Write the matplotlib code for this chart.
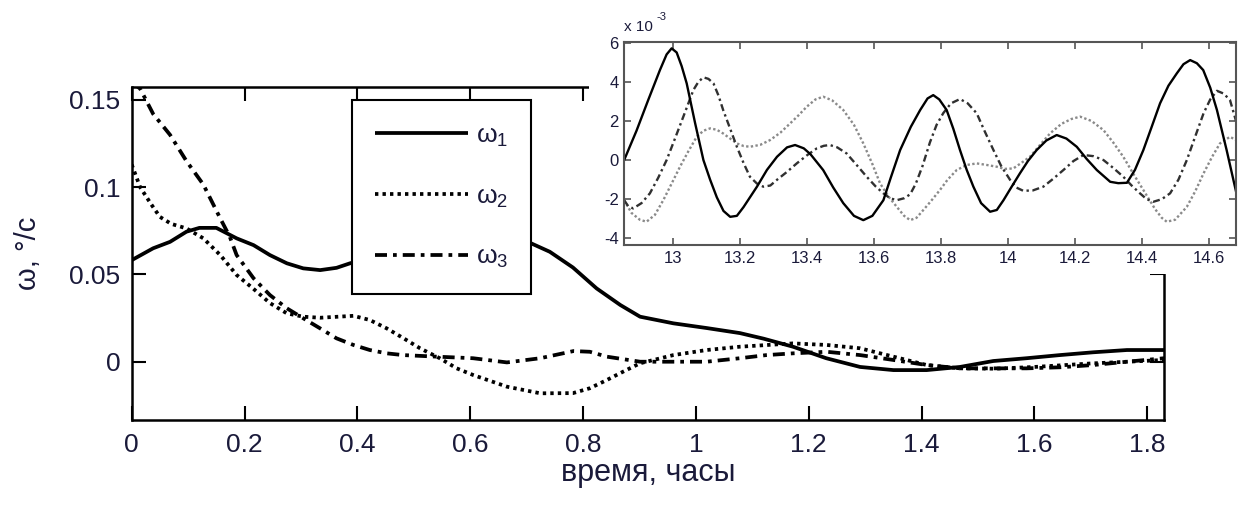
import matplotlib
matplotlib.use("Agg")
import matplotlib.pyplot as plt
from matplotlib.patches import Rectangle

plt.rcParams["font.family"] = ["Liberation Sans", "DejaVu Sans"]

# ---- main plot data (time in hours, omega in deg/s) ----
t1 = [0.0, 0.038, 0.068, 0.097, 0.12, 0.15, 0.186, 0.216, 0.245, 0.275, 0.304,
      0.334, 0.363, 0.387, 0.45, 0.52, 0.60, 0.66, 0.70, 0.741, 0.782, 0.824,
      0.866, 0.901, 0.96, 1.019, 1.078, 1.12, 1.172, 1.231, 1.291, 1.35, 1.409,
      1.468, 1.527, 1.586, 1.645, 1.704, 1.764, 1.83]
w1 = [0.0582, 0.065, 0.0687, 0.0745, 0.0767, 0.0767, 0.0707, 0.0668, 0.0611, 0.0564, 0.0535,
      0.0525, 0.0538, 0.0564, 0.062, 0.068, 0.072, 0.0715, 0.069, 0.063, 0.054, 0.042,
      0.0325, 0.0258, 0.022, 0.0193, 0.0164, 0.0132, 0.0086, 0.002, -0.003, -0.0048, -0.0048,
      -0.003, 0.0004, 0.002, 0.0038, 0.0054, 0.0067, 0.0067]

t2 = [0.0, 0.015, 0.035, 0.05, 0.07, 0.097, 0.127, 0.157, 0.186, 0.215, 0.245,
      0.275, 0.304, 0.334, 0.393, 0.422, 0.452, 0.482, 0.511, 0.546, 0.576, 0.605,
      0.665, 0.724, 0.782, 0.812, 0.842, 0.871, 0.901, 0.96, 1.019, 1.078, 1.172,
      1.232, 1.291, 1.35, 1.409, 1.468, 1.53, 1.6, 1.7, 1.83]
w2 = [0.113, 0.100, 0.090, 0.083, 0.079, 0.0764, 0.0707, 0.0611, 0.0497, 0.042, 0.0336,
      0.0277, 0.0258, 0.0252, 0.0263, 0.0239, 0.0191, 0.0134, 0.0077, 0.002, -0.0038, -0.0076,
      -0.0143, -0.0181, -0.018, -0.0152, -0.0105, -0.0057, -0.0009, 0.0038, 0.0067, 0.0086, 0.0105,
      0.0096, 0.0077, 0.0029, -0.0019, -0.0038, -0.004, -0.003, -0.001, 0.001]

t3 = [0.0, 0.0147, 0.038, 0.068, 0.097, 0.127, 0.157, 0.174, 0.186, 0.216, 0.245,
      0.275, 0.304, 0.334, 0.363, 0.393, 0.422, 0.452, 0.481, 0.541, 0.605, 0.665,
      0.724, 0.783, 0.812, 0.842, 0.901, 0.96, 1.019, 1.078, 1.125, 1.172, 1.232,
      1.291, 1.35, 1.409, 1.468, 1.527, 1.586, 1.645, 1.704, 1.764, 1.83]
w3 = [0.160, 0.1566, 0.142, 0.130, 0.115, 0.1015, 0.0821, 0.0715, 0.0611, 0.0478, 0.0382,
      0.0306, 0.0249, 0.0191, 0.0134, 0.0096, 0.0067, 0.0048, 0.0038, 0.0029, 0.002, -0.0004,
      0.002, 0.0061, 0.0057, 0.0029, 0.0, 0.0, 0.0, 0.002, 0.0038, 0.0048, 0.0057,
      0.0038, 0.001, -0.0019, -0.0038, -0.0038, -0.0038, -0.0032, -0.0019, 0.0, 0.002]

labels = ["ω$_\\mathregular{1}$", "ω$_\\mathregular{2}$", "ω$_\\mathregular{3}$"]
main_xticks = [0, 0.2, 0.4, 0.6, 0.8, 1, 1.2, 1.4, 1.6, 1.8]
main_xticklabels = ["0", "0.2", "0.4", "0.6", "0.8", "1", "1.2", "1.4", "1.6", "1.8"]
main_yticks = [0, 0.05, 0.1, 0.15]
main_yticklabels = ["0", "0.05", "0.1", "0.15"]

# ---- inset data (time in hours, omega in 1e-3 deg/s) ----
ti1 = [12.853, 12.89, 12.925, 12.96, 12.98, 12.995, 13.01, 13.025, 13.04, 13.065, 13.09,
       13.11, 13.13, 13.15, 13.17, 13.19, 13.21, 13.25, 13.28, 13.31, 13.34, 13.364,
       13.39, 13.41, 13.448, 13.478, 13.508, 13.54, 13.568, 13.595, 13.628, 13.65, 13.678,
       13.71, 13.738, 13.76, 13.777, 13.795, 13.817, 13.837, 13.857, 13.877, 13.897, 13.92,
       13.947, 13.967, 13.987, 14.01, 14.036, 14.06, 14.086, 14.115, 14.146, 14.175, 14.206,
       14.236, 14.266, 14.306, 14.33, 14.356, 14.38, 14.405, 14.43, 14.455, 14.48, 14.505,
       14.525, 14.545, 14.565, 14.584, 14.605, 14.625, 14.654, 14.682]
wi1 = [0.0, 1.5, 3.07, 4.6, 5.4, 5.71, 5.5, 4.8, 3.92, 1.9, 0.0,
       -1.0, -1.9, -2.6, -2.9, -2.85, -2.4, -1.36, -0.5, 0.17, 0.65, 0.77,
       0.6, 0.3, -0.51, -1.4, -2.2, -2.85, -3.07, -2.85, -2.05, -0.9, 0.51,
       1.7, 2.56, 3.15, 3.32, 3.1, 2.56, 1.6, 0.51, -0.5, -1.36, -2.2,
       -2.64, -2.55, -2.05, -1.4, -0.68, -0.05, 0.51, 1.0, 1.28, 1.1, 0.68,
       0.05, -0.51, -1.11, -1.18, -1.16, -0.5, 0.51, 1.7, 2.9, 3.8, 4.43,
       4.9, 5.11, 4.95, 4.6, 3.7, 2.56, 0.51, -1.6]

ti2 = [12.853, 12.875, 12.9, 12.92, 12.945, 12.97, 12.995, 13.02, 13.045, 13.07, 13.09,
       13.11, 13.13, 13.149, 13.17, 13.19, 13.21, 13.229, 13.26, 13.289, 13.32, 13.349,
       13.375, 13.399, 13.425, 13.448, 13.475, 13.508, 13.54, 13.568, 13.595, 13.618, 13.645,
       13.668, 13.69, 13.708, 13.727, 13.747, 13.77, 13.797, 13.82, 13.847, 13.877, 13.907,
       13.937, 13.967, 13.99, 14.016, 14.04, 14.066, 14.095, 14.126, 14.16, 14.19, 14.216,
       14.25, 14.286, 14.315, 14.345, 14.375, 14.405, 14.44, 14.46, 14.475, 14.5, 14.535,
       14.56, 14.585, 14.61, 14.634, 14.664, 14.682]
wi2 = [-2.05, -2.7, -3.05, -3.15, -2.8, -2.05, -1.2, -0.34, 0.45, 1.19, 1.5,
       1.62, 1.55, 1.36, 1.1, 0.85, 0.72, 0.68, 0.78, 1.02, 1.4, 1.87,
       2.3, 2.73, 3.1, 3.24, 3.05, 2.56, 1.8, 0.85, -0.2, -1.19, -1.9,
       -2.39, -2.85, -3.07, -2.95, -2.56, -2.1, -1.53, -1.0, -0.51, -0.25, -0.17,
       -0.25, -0.34, -0.45, -0.43, -0.15, 0.17, 0.75, 1.36, 1.85, 2.1, 2.22,
       2.0, 1.53, 0.9, 0.17, -0.7, -1.53, -2.5, -2.95, -3.15, -3.05, -2.39,
       -1.6, -0.68, 0.15, 0.85, 1.19, 1.02]

ti3 = [12.853, 12.865, 12.88, 12.905, 12.93, 12.955, 12.98, 13.005, 13.03, 13.06, 13.075,
       13.09, 13.105, 13.12, 13.135, 13.149, 13.17, 13.19, 13.21, 13.229, 13.25, 13.269,
       13.29, 13.309, 13.34, 13.369, 13.4, 13.429, 13.45, 13.468, 13.49, 13.518, 13.548,
       13.578, 13.605, 13.628, 13.648, 13.668, 13.69, 13.708, 13.725, 13.745, 13.767, 13.787,
       13.807, 13.83, 13.857, 13.88, 13.907, 13.93, 13.957, 13.98, 14.007, 14.025, 14.046,
       14.075, 14.106, 14.136, 14.166, 14.196, 14.226, 14.256, 14.286, 14.315, 14.345, 14.37,
       14.395, 14.415, 14.435, 14.46, 14.485, 14.51, 14.535, 14.56, 14.585, 14.605, 14.625,
       14.645, 14.664, 14.682]
wi3 = [-2.05, -2.35, -2.47, -2.2, -1.7, -0.9, 0.0, 1.1, 2.22, 3.58, 4.0,
       4.23, 4.15, 3.92, 3.3, 2.56, 1.6, 0.68, -0.15, -0.85, -1.2, -1.36,
       -1.3, -1.02, -0.6, -0.17, 0.25, 0.6, 0.73, 0.77, 0.65, 0.34, -0.25,
       -0.85, -1.35, -1.7, -1.95, -2.05, -1.95, -1.75, -1.2, -0.3, 0.9, 1.8,
       2.4, 2.9, 3.12, 2.9, 2.39, 1.5, 0.51, -0.3, -1.02, -1.4, -1.57,
       -1.55, -1.36, -0.95, -0.51, -0.05, 0.26, 0.2, 0.0, -0.4, -0.85, -1.3,
       -1.7, -2.0, -2.13, -2.0, -1.7, -1.0, 0.0, 1.2, 2.39, 3.1, 3.54,
       3.4, 3.07, 2.0]

inset_xticks = [13, 13.2, 13.4, 13.6, 13.8, 14, 14.2, 14.4, 14.6]
inset_xticklabels = ["13", "13.2", "13.4", "13.6", "13.8", "14", "14.2", "14.4", "14.6"]
inset_yticks = [-4, -2, 0, 2, 4, 6]
inset_yticklabels = ["-4", "-2", "0", "2", "4", "6"]

W, H = 1238, 505
fig = plt.figure(figsize=(W / 100, H / 100), dpi=100)

def frac(x0, y0, x1, y1):
    # pixel box (top-left origin) -> figure fraction rect
    return [x0 / W, 1 - y1 / H, (x1 - x0) / W, (y1 - y0) / H]

txt_color = "#1a1a3a"

# main axes
ax = fig.add_axes(frac(131.7, 86.7, 1164, 420))
dot = (0, (0.9, 1.1))
dashdot = (0, (3.2, 1.6, 1.0, 1.6))
ax.plot(t1, w1, color="black", lw=2.7, solid_capstyle="butt", label=labels[0])
ax.plot(t2, w2, color="black", lw=2.7, linestyle=dot, label=labels[1])
ax.plot(t3, w3, color="black", lw=2.7, linestyle=dashdot, label=labels[2])
ax.set_xlim(0, 1.8296)
ax.set_ylim(-0.0334, 0.1576)
ax.set_xticks(main_xticks)
ax.set_xticklabels(main_xticklabels)
ax.set_yticks(main_yticks)
ax.set_yticklabels(main_yticklabels)
ax.tick_params(direction="in", length=10, width=1.5, top=True, right=True,
               labelsize=19, labelcolor=txt_color)
ax.tick_params(axis="x", pad=9)
ax.tick_params(axis="y", pad=8)
for s in ax.spines.values():
    s.set_linewidth(1.8)
ax.set_xlabel("время, часы", fontsize=22, color=txt_color, labelpad=1)
ax.set_ylabel("ω, °/c", fontsize=21, color=txt_color, labelpad=20)

leg = ax.legend(loc="upper left", bbox_to_anchor=(352 / W, 1 - 100 / H),
                bbox_transform=fig.transFigure, fontsize=19, frameon=True,
                fancybox=False, framealpha=1, edgecolor="black",
                handlelength=3.5, handletextpad=0.3, labelspacing=1.34,
                borderpad=0.88, borderaxespad=0)
leg.get_frame().set_linewidth(1.5)
for t in leg.get_texts():
    t.set_color(txt_color)

# white patch under the inset
fig.add_artist(Rectangle((589 / W, 1 - 274 / H), 1 - 589 / W, 274 / H,
                         transform=fig.transFigure, facecolor="white",
                         edgecolor="none", zorder=1))

# inset axes
axi = fig.add_axes(frac(624.3, 41.7, 1236, 245), zorder=2)
axi.plot(ti2, wi2, color="#8a8a8a", lw=1.7, linestyle=(0, (1, 1)))
axi.plot(ti3, wi3, color="#303030", lw=1.7, linestyle=(0, (3, 1.5, 1, 1.5)))
axi.plot(ti1, wi1, color="black", lw=1.7)
axi.set_xlim(12.8535, 14.682)
axi.set_ylim(-4.34, 6.05)
axi.set_xticks(inset_xticks)
axi.set_xticklabels(inset_xticklabels)
axi.set_yticks(inset_yticks)
axi.set_yticklabels(inset_yticklabels)
axi.tick_params(direction="in", length=5, width=1.2, top=True, right=True,
                labelsize=12, labelcolor=txt_color, color="#555555", pad=4)
for s in axi.spines.values():
    s.set_linewidth(1.5)
    s.set_color("#555555")
axi.text(0.0, 1.072, "x 10", transform=axi.transAxes, fontsize=11,
         color=txt_color, ha="left", va="center")
axi.text(0.053, 1.12, "-3", transform=axi.transAxes, fontsize=8,
         color=txt_color, ha="left", va="center")

fig.savefig("out.png", dpi=100)
